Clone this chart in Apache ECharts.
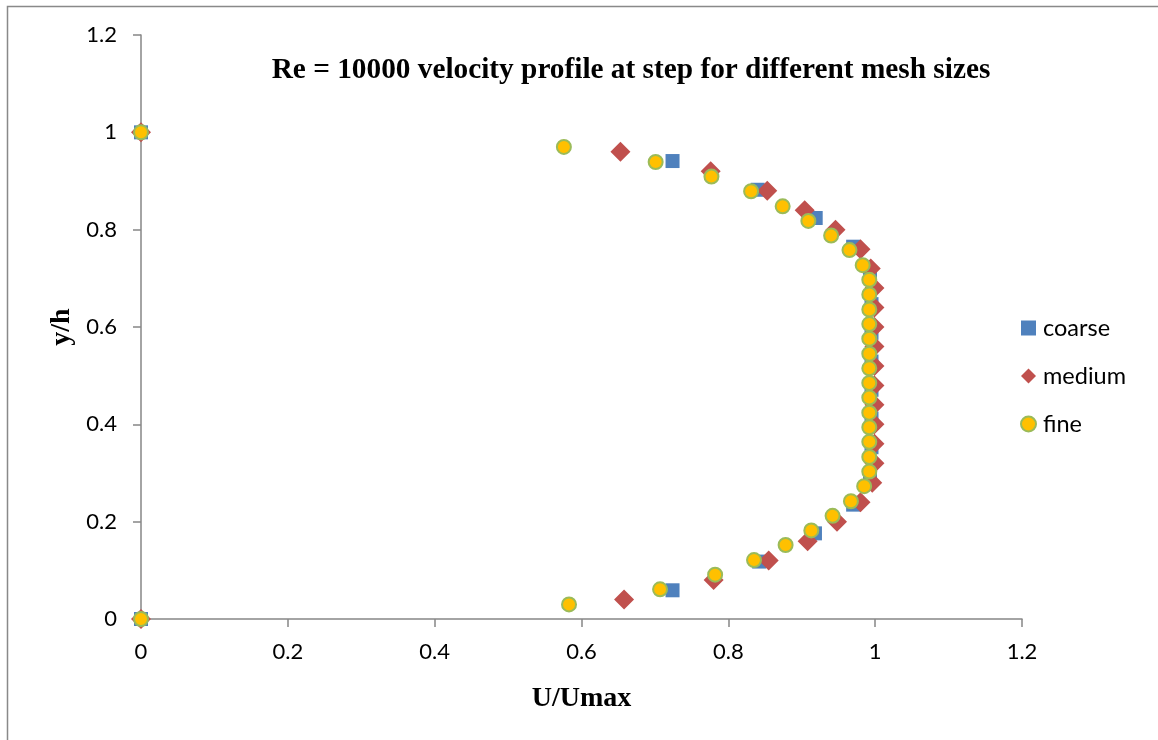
<!DOCTYPE html>
<html lang="en">
  <head>
    <title>Velocity profile</title>
    <meta charset="UTF-8" />
    <script src="https://cdn.jsdelivr.net/npm/echarts@6/dist/echarts.min.js"></script>
    <style>
      html, body { margin: 0; padding: 0; background: #fff; }
    </style>
  </head>
  <body>
    <div id="main" style="width: 1158px;height:740px;"></div>
    <script>
        // mesh series: U/Umax (x) against y/h (y)
        var coarseX = [0, 0.724, 0.842, 0.918, 0.970, 0.993, 0.995, 0.995, 0.995, 0.995, 0.995, 0.995, 0.993, 0.970, 0.919, 0.840, 0.724, 0];
        var coarseY = [0, 0.059, 0.118, 0.176, 0.235, 0.294, 0.353, 0.412, 0.471, 0.529, 0.588, 0.647, 0.706, 0.765, 0.824, 0.882, 0.941, 1];

        var mediumX = [0, 0.658, 0.780, 0.855, 0.908, 0.948, 0.980, 0.996, 0.999, 0.999, 0.999, 0.999, 0.999, 0.999, 0.999, 0.999, 0.999, 0.999, 0.994, 0.980, 0.946, 0.904, 0.853, 0.776, 0.653, 0];
        var mediumY = [0, 0.04, 0.08, 0.12, 0.16, 0.20, 0.24, 0.28, 0.32, 0.36, 0.40, 0.44, 0.48, 0.52, 0.56, 0.60, 0.64, 0.68, 0.72, 0.76, 0.80, 0.84, 0.88, 0.92, 0.96, 1];

        var fineX = [0, 0.583, 0.707, 0.782, 0.835, 0.878, 0.913, 0.942, 0.967, 0.985, 0.992, 0.992, 0.992, 0.992, 0.992, 0.992, 0.992, 0.992, 0.992, 0.992, 0.992, 0.992, 0.992, 0.992, 0.983, 0.965, 0.940, 0.909, 0.874, 0.831, 0.777, 0.701, 0.576, 0];
        var fineY = [0, 0.030, 0.061, 0.091, 0.121, 0.152, 0.182, 0.212, 0.242, 0.273, 0.303, 0.333, 0.364, 0.394, 0.424, 0.455, 0.485, 0.515, 0.545, 0.576, 0.606, 0.636, 0.667, 0.697, 0.727, 0.758, 0.788, 0.818, 0.848, 0.879, 0.909, 0.939, 0.970, 1];

        var seriesNames = ['coarse', 'medium', 'fine'];

        function pairs(xs, ys) {
            return xs.map(function (x, i) { return [x, ys[i]]; });
        }

        var myChart = echarts.init(document.getElementById('main'));
        var tickFont = { fontFamily: 'Lato', fontSize: 22, color: '#000' };
        var serif = '"Liberation Serif", "Times New Roman", serif';

        var option = {
            backgroundColor: '#fff',
            animation: false,
            // outer chart frame
            graphic: [{
                type: 'rect',
                shape: { x: 7.5, y: 6.5, width: 1200, height: 800 },
                style: { fill: 'none', stroke: '#898989', lineWidth: 1.5 },
                silent: true
            }],
            title: {
                text: 'Re = 10000 velocity profile at step for different mesh sizes',
                left: 631,
                textAlign: 'center',
                top: 56,
                padding: 0,
                textStyle: { fontFamily: serif, fontWeight: 'bold', fontSize: 29.3, color: '#000' }
            },
            legend: {
                orient: 'vertical',
                left: 1020,
                top: 316,
                padding: 0,
                itemWidth: 15,
                itemHeight: 15,
                itemGap: 24,
                data: seriesNames,
                textStyle: { fontFamily: 'Lato', fontSize: 23.5, color: '#000', lineHeight: 24, padding: [0, 0, 0, 2] }
            },
            grid: {
                left: 141,
                right: 136,
                top: 35,
                bottom: 121
            },
            xAxis: {
                type: 'value',
                min: 0,
                max: 1.2,
                interval: 0.2,
                name: 'U/Umax',
                nameLocation: 'middle',
                nameGap: 66,
                nameTextStyle: { fontFamily: serif, fontWeight: 'bold', fontSize: 28, color: '#000' },
                axisLine: { show: true, lineStyle: { color: '#868686', width: 1.5 } },
                axisTick: { show: true, length: 8, lineStyle: { color: '#868686', width: 1.5 } },
                splitLine: { show: false },
                axisLabel: Object.assign({ margin: 22, formatter: function (v) { return +v.toFixed(1) + ''; } }, tickFont)
            },
            yAxis: {
                type: 'value',
                min: 0,
                max: 1.2,
                interval: 0.2,
                name: 'y/h',
                nameLocation: 'middle',
                nameGap: 63,
                nameTextStyle: { fontFamily: serif, fontWeight: 'bold', fontSize: 28, color: '#000' },
                axisLine: { show: true, lineStyle: { color: '#868686', width: 1.5 } },
                axisTick: { show: true, length: 8, lineStyle: { color: '#868686', width: 1.5 } },
                splitLine: { show: false },
                axisLabel: Object.assign({ margin: 24, formatter: function (v) { return +v.toFixed(1) + ''; } }, tickFont)
            },
            series: [{
                name: 'coarse',
                type: 'scatter',
                symbol: 'rect',
                symbolSize: 14,
                itemStyle: { color: '#4F81BD', opacity: 1 },
                data: pairs(coarseX, coarseY)
            }, {
                name: 'medium',
                type: 'scatter',
                symbol: 'diamond',
                symbolSize: 20,
                itemStyle: { color: '#C0504D', opacity: 1 },
                data: pairs(mediumX, mediumY)
            }, {
                name: 'fine',
                type: 'scatter',
                symbol: 'circle',
                symbolSize: 14,
                itemStyle: { color: '#FFC000', borderColor: '#9BBB59', borderWidth: 2, opacity: 1 },
                data: pairs(fineX, fineY)
            }]
        };
        myChart.setOption(option);
    </script>
  </body>
</html>
